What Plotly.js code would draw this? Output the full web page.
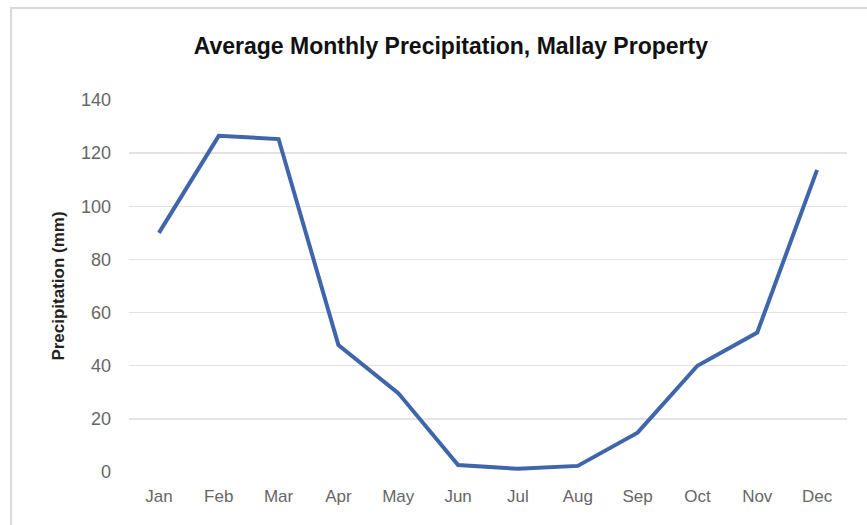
<!DOCTYPE html>
<html>
<head>
<meta charset="utf-8">
<script src="https://cdn.plot.ly/plotly-3.0.1.min.js"></script>
<style>
html,body{margin:0;padding:0;background:#fff;}
#wrap{position:absolute;left:0;top:0;width:867px;height:525px;overflow:hidden;}
#frame{position:absolute;left:10px;top:7px;width:880px;height:540px;border-left:2px solid #d9d9d9;border-top:2px solid #d9d9d9;}
#chart{position:absolute;left:0;top:0;width:867px;height:525px;}
</style>
</head>
<body>
<div id="wrap"><div id="chart"></div><div id="frame"></div></div>
<script>
const months = ["Jan","Feb","Mar","Apr","May","Jun","Jul","Aug","Sep","Oct","Nov","Dec"];
const precipitation = [90, 126.5, 125.3, 47.8, 29.7, 2.6, 1.2, 2.3, 14.8, 40, 52.5, 113.7];
const yTicks = [0, 20, 40, 60, 80, 100, 120, 140];

Plotly.newPlot('chart', [{
  x: months,
  y: precipitation,
  type: 'scatter',
  mode: 'lines',
  line: {color: '#3f66ab', width: 4},
  hoverinfo: 'skip'
}], {
  width: 867, height: 525,
  paper_bgcolor: 'rgba(0,0,0,0)',
  plot_bgcolor: '#fff',
  margin: {l: 129, r: 20, t: 100, b: 53},
  showlegend: false,
  title: {
    text: '<b>Average Monthly Precipitation, Mallay Property</b>',
    font: {family: 'Liberation Sans, Arial, sans-serif', size: 23, color: '#111'},
    x: 0.52, xanchor: 'center', y: 0.912, yanchor: 'middle'
  },
  xaxis: {
    type: 'category',
    range: [-0.5, 11.5],
    showgrid: false,
    showline: false,
    zeroline: false,
    ticks: '',
    ticklabelstandoff: 12,
    tickfont: {family: 'Liberation Sans, Arial, sans-serif', size: 17, color: '#666'}
  },
  yaxis: {
    range: [0, 140],
    tickvals: yTicks,
    showgrid: true,
    gridcolor: '#e3e3e3',
    gridwidth: 1.5,
    zeroline: false,
    showline: false,
    ticks: '',
    ticklabelstandoff: 17,
    tickfont: {family: 'Liberation Sans, Arial, sans-serif', size: 18, color: '#666'},
    title: {
      text: '<b>Precipitation (mm)</b>',
      font: {family: 'Liberation Sans, Arial, sans-serif', size: 17, color: '#222'},
      standoff: 12
    }
  }
}, {staticPlot: true});
</script>
</body>
</html>
